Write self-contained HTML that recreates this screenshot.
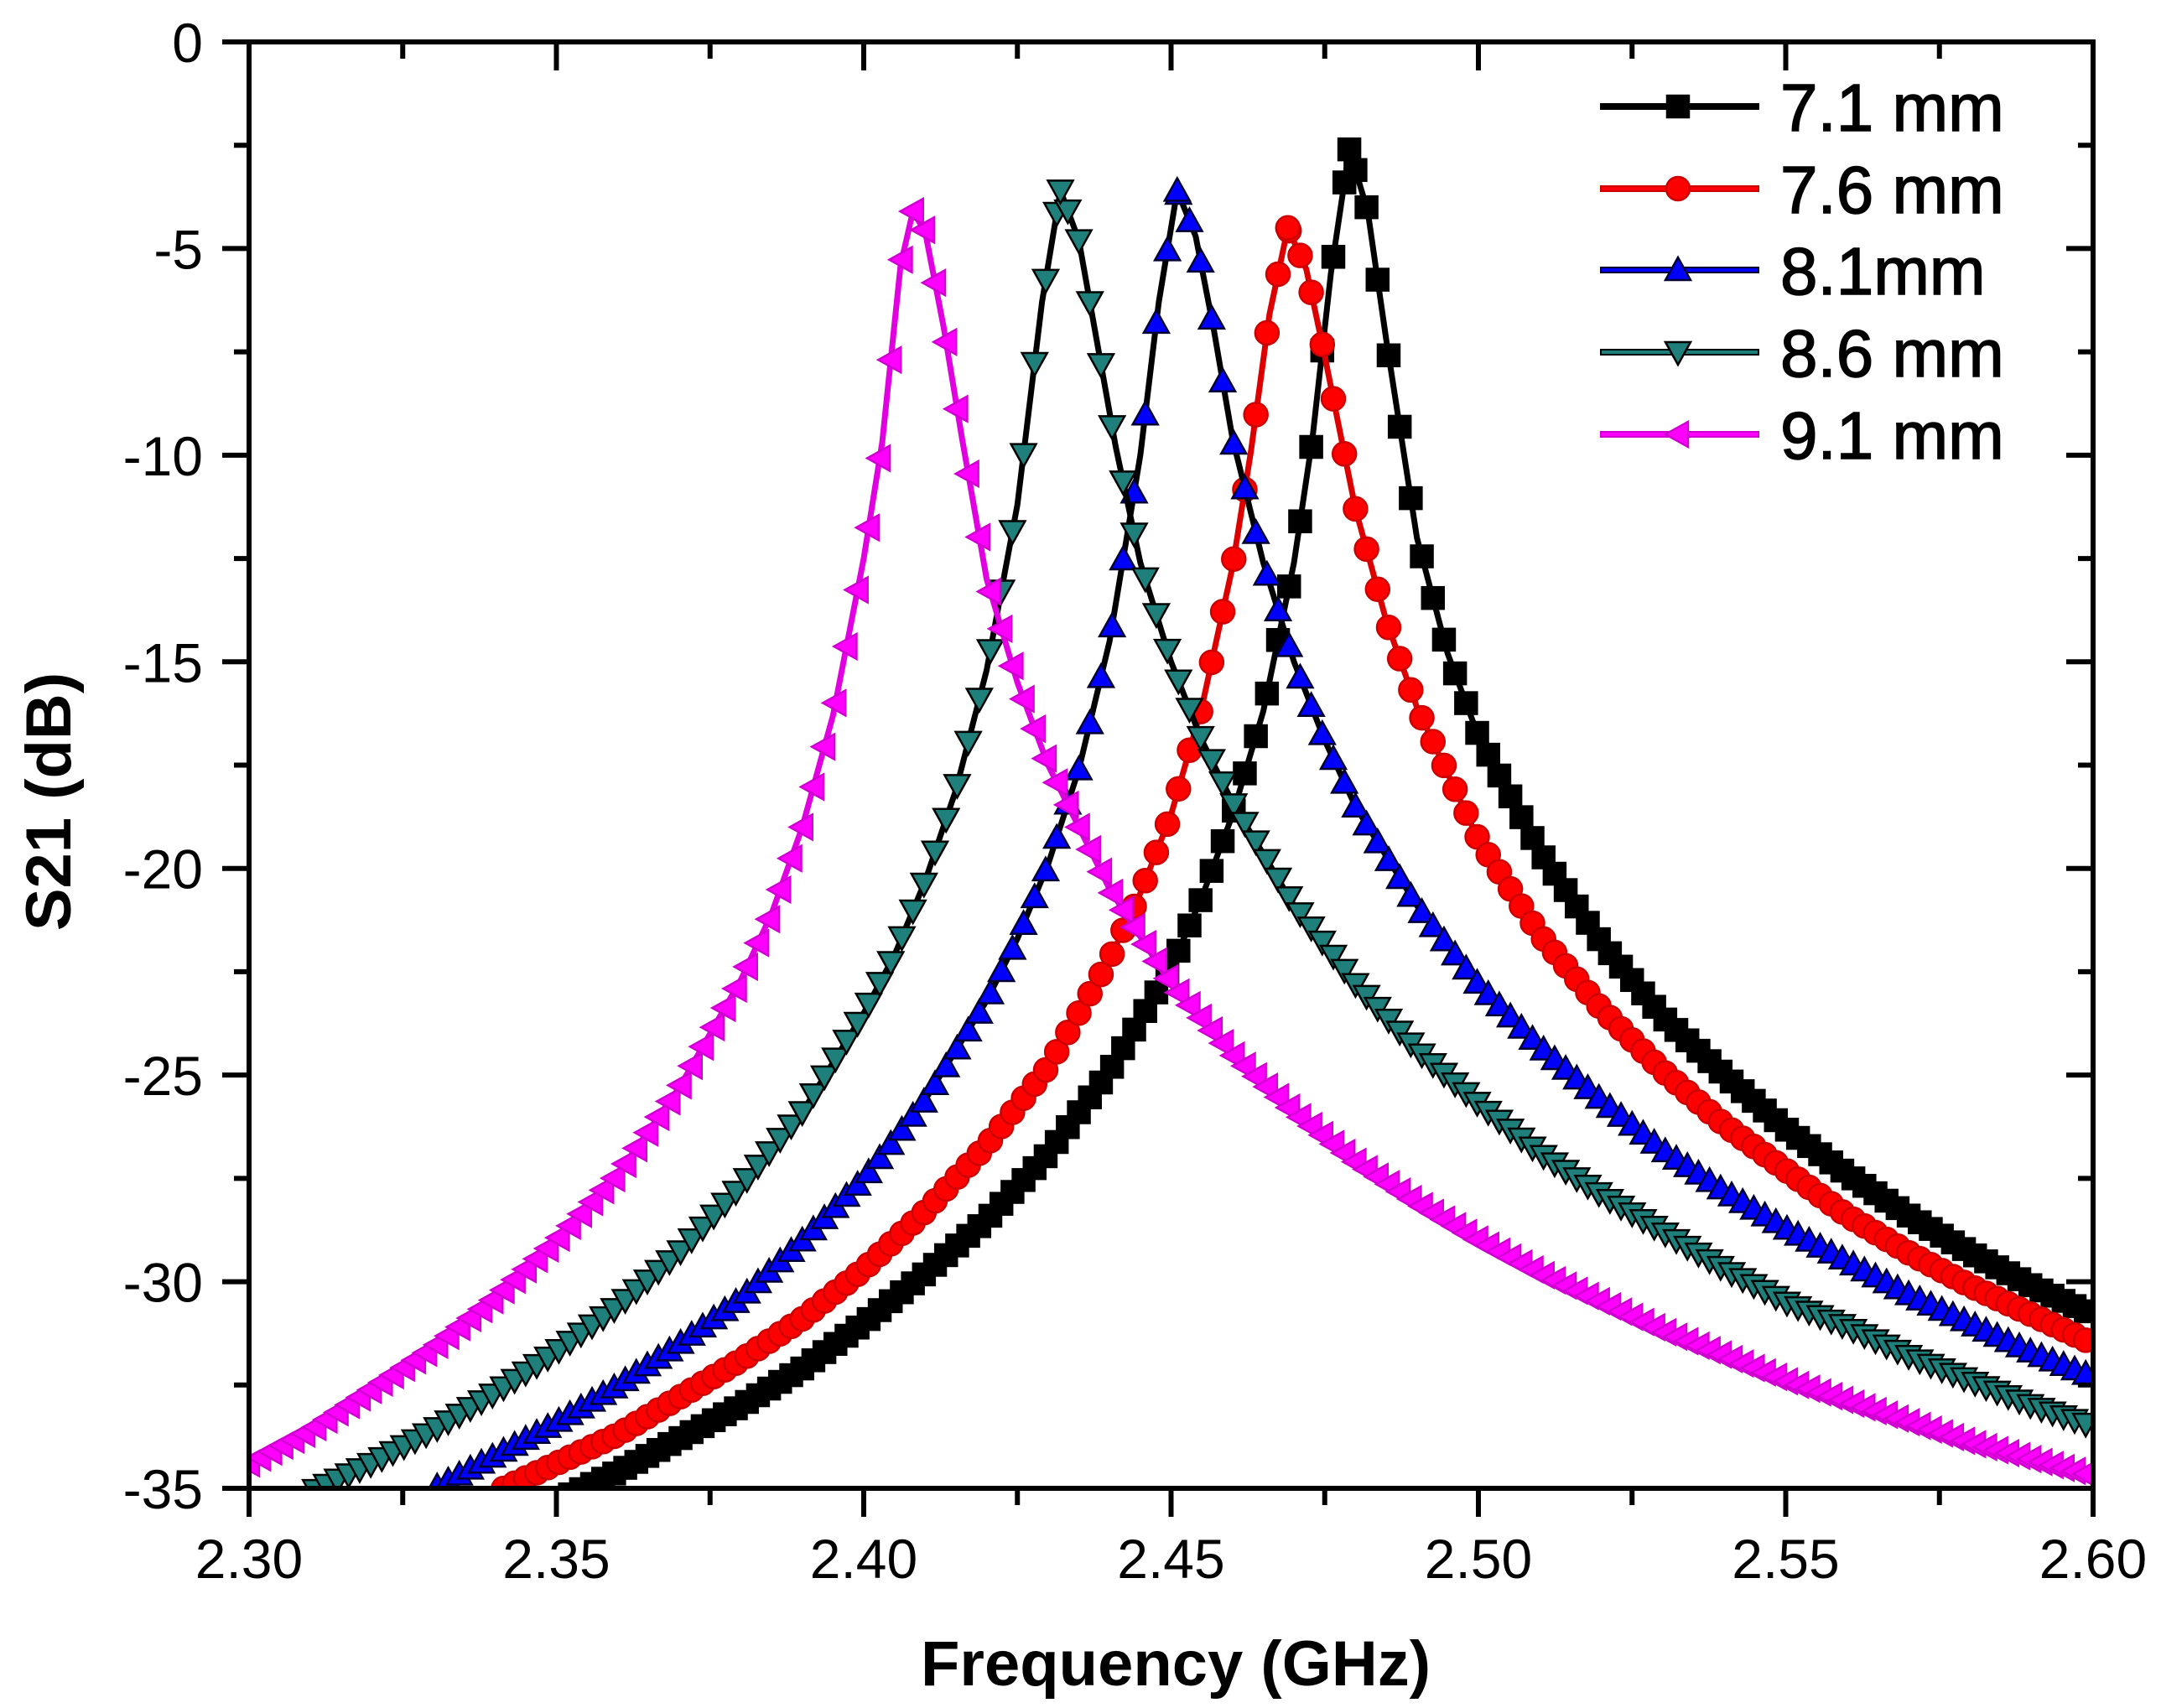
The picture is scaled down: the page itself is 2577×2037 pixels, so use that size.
<!DOCTYPE html>
<html><head><meta charset="utf-8"><style>
html,body{margin:0;padding:0;background:#fff;}
svg{display:block;font-family:"Liberation Sans",Arial,sans-serif;}
</style></head><body>
<svg id="chart" width="2577" height="2037" viewBox="0 0 2577 2037" xmlns="http://www.w3.org/2000/svg">
<defs><clipPath id="plotclip"><rect x="297" y="50" width="2199" height="1725"/></clipPath></defs>
<rect width="2577" height="2037" fill="#fff"/>
<g id="series" clip-path="url(#plotclip)"></g>
<g id="axes"></g>
<g id="legend"></g>
<text x="1402" y="2010" font-size="76" font-weight="bold" text-anchor="middle">Frequency (GHz)</text>
<text x="0" y="0" font-size="76" font-weight="bold" text-anchor="middle" transform="translate(84,956) rotate(-90)">S21 (dB)</text>
</svg>
<script>
const xTicks = [2.30, 2.35, 2.40, 2.45, 2.50, 2.55, 2.60];
const xTickLabels = ["2.30","2.35","2.40","2.45","2.50","2.55","2.60"];
const yTicks = [0, -5, -10, -15, -20, -25, -30, -35];
const yTickLabels = ["0","-5","-10","-15","-20","-25","-30","-35"];
const seriesNames = ["7.1 mm","7.6 mm","8.1mm","8.6 mm","9.1 mm"];

const f71 = [2.35,2.36,2.37,2.38,2.39,2.40,2.41,2.42,2.43,2.44,2.45,2.455,2.46,2.465,2.47,2.473,2.476,2.479,2.482,2.485,2.49,2.495,2.50,2.51,2.52,2.53,2.54,2.55,2.56,2.57,2.58,2.59,2.60];
const s71 = [-35.3,-34.6,-33.8,-33.0,-32.1,-31.0,-29.8,-28.5,-26.9,-24.9,-22.4,-20.7,-18.7,-16.2,-12.6,-9.6,-5.6,-2.6,-4.1,-7.2,-12.0,-14.8,-16.8,-19.6,-21.8,-23.6,-25.0,-26.3,-27.4,-28.4,-29.3,-30.1,-30.8];

const f76 = [2.34,2.35,2.36,2.37,2.38,2.39,2.40,2.41,2.42,2.43,2.44,2.445,2.45,2.455,2.46,2.463,2.466,2.469,2.472,2.475,2.48,2.485,2.49,2.50,2.51,2.52,2.53,2.54,2.55,2.56,2.57,2.58,2.59,2.60];
const s76 = [-35.1,-34.4,-33.7,-32.8,-31.9,-30.9,-29.7,-28.3,-26.7,-24.8,-22.2,-20.6,-18.7,-16.1,-12.7,-9.9,-6.6,-4.5,-5.5,-7.6,-11.3,-14.0,-16.1,-19.3,-21.6,-23.4,-24.9,-26.2,-27.3,-28.4,-29.3,-30.1,-30.8,-31.5];

const f81 = [2.33,2.34,2.35,2.36,2.37,2.38,2.39,2.40,2.41,2.42,2.425,2.43,2.435,2.44,2.445,2.448,2.451,2.454,2.457,2.46,2.465,2.47,2.475,2.48,2.49,2.50,2.51,2.52,2.53,2.54,2.55,2.56,2.57,2.58,2.59,2.60];
const s81 = [-35.0,-34.2,-33.4,-32.5,-31.5,-30.4,-29.0,-27.5,-25.6,-23.2,-21.7,-19.9,-17.6,-14.5,-10.0,-6.3,-3.6,-4.7,-7.0,-9.6,-12.6,-15.0,-16.9,-18.5,-20.9,-22.8,-24.3,-25.6,-26.8,-27.8,-28.7,-29.5,-30.3,-31.0,-31.7,-32.3];

const f86 = [2.31,2.32,2.33,2.34,2.35,2.36,2.37,2.38,2.39,2.40,2.405,2.41,2.415,2.42,2.425,2.429,2.432,2.435,2.438,2.441,2.445,2.45,2.455,2.46,2.47,2.48,2.49,2.50,2.51,2.52,2.53,2.54,2.55,2.56,2.57,2.58,2.59,2.60];
const s86 = [-35.1,-34.4,-33.6,-32.7,-31.7,-30.6,-29.3,-27.7,-25.9,-23.5,-22.1,-20.3,-18.1,-15.2,-11.2,-6.3,-3.6,-4.8,-7.3,-9.8,-12.6,-15.0,-16.9,-18.4,-20.9,-22.8,-24.4,-25.7,-26.9,-27.9,-28.8,-29.7,-30.5,-31.1,-31.8,-32.4,-33.0,-33.5];

const f91 = [2.30,2.31,2.32,2.33,2.34,2.35,2.36,2.37,2.38,2.385,2.39,2.395,2.40,2.403,2.406,2.408,2.41,2.413,2.416,2.42,2.425,2.43,2.44,2.45,2.46,2.47,2.48,2.49,2.50,2.51,2.52,2.53,2.54,2.55,2.56,2.57,2.58,2.59,2.60];
const s91 = [-34.4,-33.6,-32.6,-31.6,-30.4,-29.0,-27.4,-25.3,-22.7,-21.1,-19.0,-16.3,-12.5,-9.7,-5.4,-4.1,-4.6,-6.9,-9.6,-13.0,-15.5,-17.5,-20.5,-22.8,-24.5,-25.9,-27.1,-28.1,-29.0,-29.8,-30.5,-31.2,-31.8,-32.4,-32.9,-33.4,-33.9,-34.3,-34.7];

const X0=297, X1=2496, Y0=50, Y1=1775;
function xs(f){return X0+(f-2.30)/(2.60-2.30)*(X1-X0);}
function ys(v){return Y0+(0-v)/35*(Y1-Y0);}
const NS="http://www.w3.org/2000/svg";
function mk(tag, attrs, parent){const e=document.createElementNS(NS,tag);for(const k in attrs)e.setAttribute(k,attrs[k]);parent.appendChild(e);return e;}

const seriesF=[f71,f76,f81,f86,f91];
const seriesS=[s71,s76,s81,s86,s91];
const colors=["#000000","#ff0000","#0000ff","#1f7f7a","#ff00ff"];
const edges=["#000000","#cc0000","#000030","#000000","#d000d0"];
const lineCols=["#000000","#dd0000","#000000","#000000","#e000e0"];
const shapes=["square","circle","up","down","left"];
const MS=30;

function marker(shape,cx,cy,fill,stroke,parent){
  const h=MS/2;let e;
  if(shape==="square") e=mk("rect",{x:cx-h+2,y:cy-h+2,width:MS-4,height:MS-4},parent);
  else if(shape==="circle") e=mk("circle",{cx:cx,cy:cy,r:h-1},parent);
  else {
    let p;
    if(shape==="up") p=[[cx,cy-h],[cx+h,cy+h*0.8],[cx-h,cy+h*0.8]];
    else if(shape==="down") p=[[cx,cy+h],[cx+h,cy-h*0.8],[cx-h,cy-h*0.8]];
    else p=[[cx-h,cy],[cx+h*0.8,cy-h],[cx+h*0.8,cy+h]];
    e=mk("polygon",{points:p.map(q=>q.join(",")).join(" ")},parent);
  }
  e.setAttribute("fill",fill);e.setAttribute("stroke",stroke);e.setAttribute("stroke-width","2.5");
  return e;
}
function interp(F,S,f){
  for(let i=0;i<F.length-1;i++){ if(f>=F[i]&&f<=F[i+1]){const t=(f-F[i])/(F[i+1]-F[i]);return S[i]+t*(S[i+1]-S[i]);} }
  return null;
}

const gS=document.getElementById("series");
for(let s=0;s<5;s++){
  const g=mk("g",{},gS);
  
  
  const F=seriesF[s],S=seriesS[s];
  const pl=mk("polyline",{points:F.map((f,i)=>xs(f)+","+ys(S[i])).join(" "),fill:"none",stroke:lineCols[s],"stroke-width":7,"stroke-linejoin":"round"},g);
  
  
  for(let k=0;k<=167;k++){
    const f=2.30+k*0.0018;
    const v=interp(F,S,f);
    if(v===null)continue;
    const m=marker(shapes[s],xs(f),ys(v),colors[s],edges[s],g);
    
    
  }
  let pi=0;for(let i=1;i<S.length;i++)if(S[i]>S[pi])pi=i;
  const pm=marker(shapes[s],xs(F[pi]),ys(S[pi]),colors[s],edges[s],g);
  
  
}

const gA=document.getElementById("axes");
const frame=mk("rect",{x:X0,y:Y0,width:X1-X0,height:Y1-Y0,fill:"none",stroke:"#000","stroke-width":6},gA);


for(let i=0;i<xTicks.length;i++){
  const x=xs(xTicks[i]);
  mk("line",{x1:x,y1:Y1,x2:x,y2:Y1+34,stroke:"#000","stroke-width":6},gA);
  mk("line",{x1:x,y1:Y0,x2:x,y2:Y0+34,stroke:"#000","stroke-width":6},gA);
  const t=mk("text",{x:x,y:1882,"font-size":66,"text-anchor":"middle"},gA);
  t.textContent=xTickLabels[i];
  
  
  if(i<xTicks.length-1){
    const xm=xs(xTicks[i]+0.025);
    mk("line",{x1:xm,y1:Y1,x2:xm,y2:Y1+20,stroke:"#000","stroke-width":6},gA);
    mk("line",{x1:xm,y1:Y0,x2:xm,y2:Y0+20,stroke:"#000","stroke-width":6},gA);
  }
}
for(let i=0;i<yTicks.length;i++){
  const y=ys(yTicks[i]);
  mk("line",{x1:X0-32,y1:y,x2:X0,y2:y,stroke:"#000","stroke-width":6},gA);
  mk("line",{x1:X1-32,y1:y,x2:X1,y2:y,stroke:"#000","stroke-width":6},gA);
  const t=mk("text",{x:242,y:y+24,"font-size":66,"text-anchor":"end"},gA);
  t.textContent=yTickLabels[i];
  
  
  if(i<yTicks.length-1){
    const ym=ys(yTicks[i]-2.5);
    mk("line",{x1:X0-18,y1:ym,x2:X0,y2:ym,stroke:"#000","stroke-width":6},gA);
    mk("line",{x1:X1-18,y1:ym,x2:X1,y2:ym,stroke:"#000","stroke-width":6},gA);
  }
}

const gL=document.getElementById("legend");
const rowsY=[127,225,322,420,518];
for(let s=0;s<5;s++){
  const g=mk("g",{},gL);
  
  
  mk("line",{x1:1908,y1:rowsY[s],x2:2098,y2:rowsY[s],stroke:edges[s],"stroke-width":8},g);
  mk("line",{x1:1910,y1:rowsY[s],x2:2096,y2:rowsY[s],stroke:colors[s],"stroke-width":4},g);
  marker(shapes[s],2001,rowsY[s],colors[s],edges[s],g);
  const t=mk("text",{x:2123,y:rowsY[s]+29,"font-size":80,stroke:"#000","stroke-width":1.5},g);
  t.textContent=seriesNames[s];
}
</script>
</body></html>
